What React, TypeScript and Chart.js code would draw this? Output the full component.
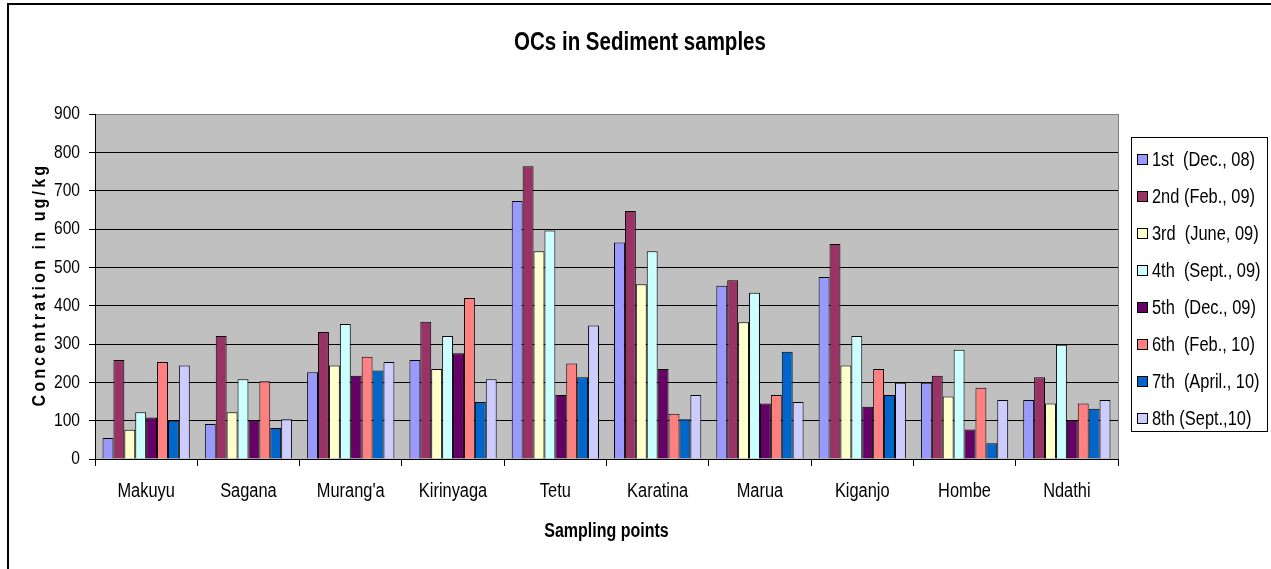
import React, { useEffect, useRef } from "react";
import { Chart, registerables } from "chart.js";

Chart.register(...registerables);

// Sampling sites along the x axis
const sites = ["Makuyu", "Sagana", "Murang'a", "Kirinyaga", "Tetu", "Karatina", "Marua", "Kiganjo", "Hombe", "Ndathi"];

// Sampling rounds (legend entries)
const rounds = [
  "1st  (Dec., 08)",
  "2nd (Feb., 09)",
  "3rd  (June, 09)",
  "4th  (Sept., 09)",
  "5th  (Dec., 09)",
  "6th  (Feb., 10)",
  "7th  (April., 10)",
  "8th (Sept.,10)",
];

const roundColors = ["#9999FF", "#993366", "#FFFFCC", "#CCFFFF", "#660066", "#FF8080", "#0066CC", "#CCCCFF"];

// OC concentrations (ug/kg) per round, one value per site
const round1 = [55, 91, 226, 258, 673, 565, 452, 475, 199, 154];
const round2 = [258, 321, 331, 358, 764, 647, 466, 561, 217, 213];
const round3 = [76, 122, 244, 235, 542, 456, 357, 244, 163, 145];
const round4 = [122, 208, 352, 321, 596, 542, 434, 321, 285, 298];
const round5 = [108, 100, 217, 276, 167, 235, 145, 136, 77, 100];
const round6 = [253, 203, 267, 420, 249, 118, 167, 235, 186, 145];
const round7 = [100, 81, 231, 149, 213, 104, 280, 167, 41, 131];
const round8 = [244, 104, 253, 208, 348, 167, 149, 199, 154, 154];

const seriesValues = [round1, round2, round3, round4, round5, round6, round7, round8];

const yMin = 0;
const yMax = 900;
const yStep = 100;

const chartTitle = "OCs in Sediment samples";
const xTitle = "Sampling points";
const yTitle = "Concentration in ug/kg";

const FONT = '"Liberation Sans", Arial, sans-serif';
// horizontal squeeze giving the narrow typeface look
const SQUEEZE = 0.82;

function narrowText(
  ctx: CanvasRenderingContext2D,
  text: string,
  x: number,
  y: number,
  size: number,
  bold: boolean,
  align: CanvasTextAlign,
  squeeze = SQUEEZE,
) {
  ctx.save();
  ctx.translate(x, y);
  ctx.scale(squeeze, 1);
  ctx.font = `${bold ? "bold " : ""}${size}px ${FONT}`;
  ctx.textAlign = align;
  ctx.textBaseline = "middle";
  ctx.fillStyle = "#000";
  ctx.fillText(text, 0, 0);
  ctx.restore();
}

const decorations = {
  id: "decorations",
  beforeDraw(chart: any) {
    const { ctx, chartArea: a } = chart;
    ctx.save();
    ctx.fillStyle = "#ffffff";
    ctx.fillRect(0, 0, chart.width, chart.height);
    ctx.fillStyle = "#C0C0C0";
    ctx.fillRect(a.left, a.top, a.right - a.left, a.bottom - a.top);
    ctx.restore();
  },
  afterDraw(chart: any) {
    const { ctx, chartArea: a } = chart;
    const xs = chart.scales.x;
    const ys = chart.scales.y;
    ctx.save();

    // right edge of plot area
    ctx.strokeStyle = "#808080";
    ctx.lineWidth = 1;
    ctx.beginPath();
    ctx.moveTo(Math.round(a.right) + 0.5, a.top);
    ctx.lineTo(Math.round(a.right) + 0.5, a.bottom);
    ctx.stroke();

    // outer frame (top and left)
    ctx.strokeStyle = "#000";
    ctx.lineWidth = 2;
    ctx.beginPath();
    ctx.moveTo(8, chart.height);
    ctx.lineTo(8, 4);
    ctx.lineTo(chart.width, 4);
    ctx.stroke();

    // category labels
    (chart.data.labels as string[]).forEach((label, i) => {
      narrowText(ctx, label, xs.getPixelForTick(i), 491, 20, false, "center");
    });

    // value labels
    ys.ticks.forEach((t: any) => {
      narrowText(ctx, String(t.value), a.left - 15, ys.getPixelForValue(t.value), 19, false, "right");
    });

    // chart title
    narrowText(ctx, chartTitle, 640, 43, 25, true, "center");

    // x axis title
    narrowText(ctx, xTitle, (a.left + a.right) / 2, 532, 19.5, true, "center");

    // y axis title (letter-spaced, rotated)
    ctx.save();
    ctx.translate(40, (a.top + a.bottom) / 2);
    ctx.rotate(-Math.PI / 2);
    ctx.scale(0.9, 1);
    ctx.font = `bold 18px ${FONT}`;
    (ctx as any).letterSpacing = "3.4px";
    ctx.textAlign = "center";
    ctx.textBaseline = "middle";
    ctx.fillStyle = "#000";
    ctx.fillText(yTitle, 2, 0);
    ctx.restore();

    // legend
    const lx = 1131;
    const ly = 137;
    const lw = 136;
    const lh = 294;
    ctx.strokeStyle = "#000";
    ctx.lineWidth = 1;
    ctx.strokeRect(lx + 0.5, ly + 0.5, lw, lh);
    rounds.forEach((label, i) => {
      const cy = ly + 22 + i * 37.1;
      const sy = Math.round(cy - 5.5);
      ctx.fillStyle = roundColors[i];
      ctx.fillRect(lx + 6, sy, 11, 11);
      ctx.strokeStyle = "#000";
      ctx.lineWidth = 1;
      ctx.strokeRect(lx + 6.5, sy + 0.5, 10, 10);
      narrowText(ctx, label, lx + 21, cy + 1, 20, false, "left");
    });

    ctx.restore();
  },
};

export default function App() {
  const canvasRef = useRef<HTMLCanvasElement | null>(null);

  useEffect(() => {
    document.body.style.margin = "0";
    const canvas = canvasRef.current;
    if (!canvas) return;

    const chart = new Chart(canvas, {
      type: "bar",
      data: {
        labels: sites,
        datasets: seriesValues.map((values, i) => ({
          label: rounds[i],
          data: values,
          backgroundColor: roundColors[i],
          borderColor: "#000000",
          borderWidth: 1,
          barPercentage: 1,
          categoryPercentage: 0.853,
        })),
      },
      options: {
        responsive: false,
        animation: false,
        events: [],
        layout: { padding: { left: 0, top: 114, right: 153, bottom: 0 } },
        plugins: {
          legend: { display: false },
          title: { display: false },
          tooltip: { enabled: false },
        },
        scales: {
          x: {
            grid: {
              display: true,
              drawOnChartArea: false,
              drawTicks: true,
              tickLength: 7,
              color: "#000",
              offset: true,
            },
            border: { display: true, color: "#000", width: 1 },
            ticks: { display: false, autoSkip: false },
            afterFit(scale: any) {
              scale.height = 110;
            },
          },
          y: {
            min: yMin,
            max: yMax,
            ticks: { display: false, stepSize: yStep },
            grid: {
              color: (c: any) => (c.tick && c.tick.value === yMax ? "#808080" : "#000000"),
              tickColor: "#000000",
              tickLength: 6,
              lineWidth: 1,
            },
            border: { display: true, color: "#000", width: 1 },
            afterFit(scale: any) {
              scale.width = 95;
            },
          },
        },
      },
      plugins: [decorations],
    });

    return () => chart.destroy();
  }, []);

  return (
    <div style={{ position: "relative", width: 1271, height: 569 }}>
      <canvas ref={canvasRef} width={1271} height={569} style={{ display: "block" }} />
    </div>
  );
}
